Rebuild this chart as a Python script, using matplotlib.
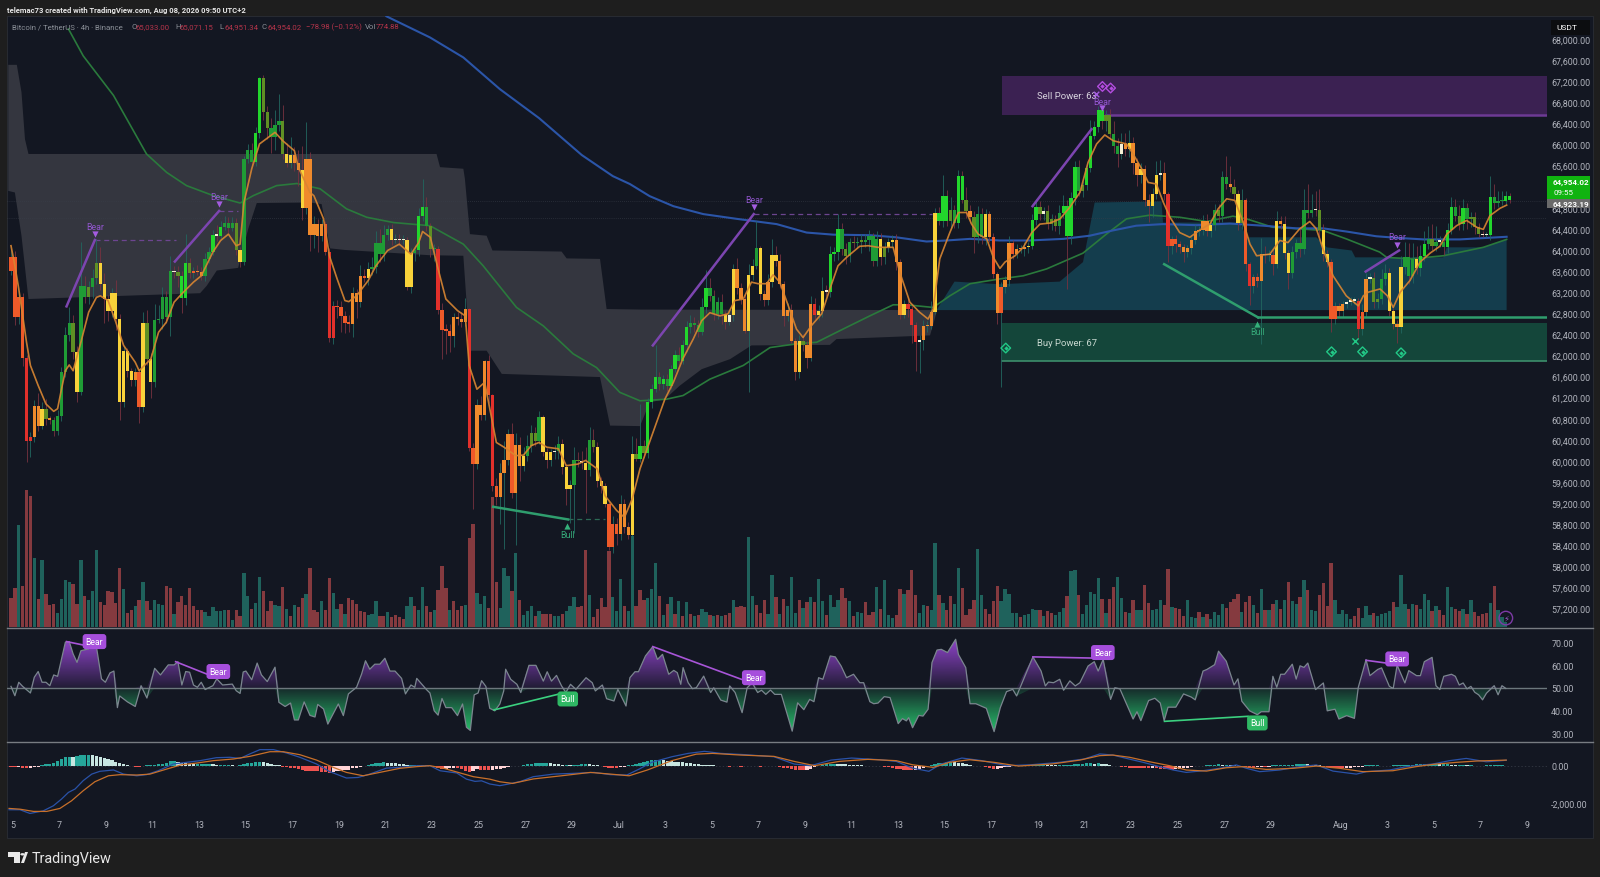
import numpy as np
import matplotlib
matplotlib.use("Agg")
import matplotlib.pyplot as plt
from matplotlib.patches import Rectangle, Polygon, Circle

plt.rcParams['font.family'] = ['Roboto', 'DejaVu Sans']

# ---------- candle data (4h bars, bar 0 = 5 Jun) ----------
first_open = 63610
close = [
63860,62720,63100,61950,60380,60450,61040,60670,60990,60800,
60780,60570,60860,61690,62390,62610,62060,61310,63310,63100,
63290,63460,63750,63360,63070,62850,63180,62690,61120,62080,
61710,61530,61680,61020,62620,61930,61500,62670,62700,63100,
62720,63600,63580,63500,63080,63750,63560,63600,63580,63510,
63830,63960,64280,64270,64440,64520,64420,64520,64000,63780,
65730,65900,65660,66220,67260,66610,66310,66140,66360,66450,
65820,65650,65800,65650,65520,64790,65730,64280,64490,64270,
64490,63960,62340,62930,62910,62750,62620,62600,63180,63010,
63510,63460,63630,63670,64140,63920,64280,64400,64180,64190,
64180,64190,63290,63940,63990,64640,64810,64460,64010,64020,
62870,62490,62470,62360,62720,62700,62630,62880,60240,59940,
61060,60870,61900,61250,59530,59310,59780,60020,60510,59400,
60310,59910,60090,60290,60530,60380,60830,60160,60010,60160,
60190,60320,59880,59470,59540,60020,59990,59960,59820,60400,
60260,59610,59520,59180,58360,58800,58610,59180,58740,58600,
60130,60040,60280,60150,61120,61360,61590,61460,61550,61430,
61740,62010,61900,62190,62530,62610,62570,62450,62910,63270,
63130,62790,63010,62790,62630,62770,63640,63270,63070,62470,
63530,63700,64030,63170,63060,63390,63900,63800,63360,62750,
62870,62280,61690,62280,62190,61960,62980,62770,62850,63230,
63210,63920,63960,64400,64010,63890,64150,64130,64150,64160,
64180,64270,63800,64210,63860,64050,64150,64190,63770,62770,
62980,62880,62580,62260,62300,62550,62550,62830,64710,64540,
65020,64540,64750,64520,65410,64950,64730,64620,64240,64680,
64240,64680,64250,63540,62800,63290,63430,64140,63920,64010,
64010,64050,64080,64560,64820,64680,64730,64490,64590,64450,
64710,64840,64260,64980,65580,65110,65230,65550,66170,66330,
66650,66450,66550,66200,65980,65820,66010,65910,66030,65640,
65420,65540,64940,64830,65070,65430,65460,65060,64080,64210,
64110,64050,63970,64040,64180,64350,64380,64540,64350,64480,
64750,64650,65390,65250,65190,65060,64520,64950,63730,63310,
63480,63420,63920,63900,63900,63730,64540,64490,63940,63560,
63970,64130,64020,64760,64700,64760,64750,64370,63920,63780,
62700,62940,62850,62980,63020,63040,63040,62500,62820,63450,
63470,63010,63070,63440,63560,62850,62600,62530,63670,63860,
63500,63830,63650,63890,64110,64200,64080,64160,64160,64050,
64370,64810,64650,64490,64790,64590,64620,64430,64300,64280,
64280,65000,64890,64920,64930,65020,64950]
wick_up = [
150,120,100,80,60,100,120,250,120,180,
60,60,100,100,150,300,150,120,850,200,
120,180,450,300,200,80,100,250,100,100,
60,60,80,60,200,250,120,300,250,200,
120,280,100,120,100,550,100,80,120,100,
120,100,100,200,100,120,100,100,80,60,
60,100,120,120,20,60,120,200,300,500,
300,200,350,150,250,450,700,120,150,100,
100,60,80,100,120,120,100,150,120,80,
200,120,150,200,220,250,200,80,100,120,
120,100,60,100,100,150,540,200,60,100,
50,120,100,120,80,100,120,200,20,100,
120,180,20,100,20,150,180,350,100,200,
220,150,180,200,150,120,120,40,80,60,
120,150,100,60,100,250,150,200,300,250,
200,100,80,60,80,150,120,180,100,100,
350,300,800,120,80,100,600,100,80,100,
80,100,150,100,120,150,120,100,180,350,
200,120,100,150,50,100,100,200,100,100,
200,120,520,50,80,150,300,180,120,60,
120,100,50,100,120,80,150,100,100,250,
100,150,100,280,120,120,80,120,100,150,
120,100,50,150,120,100,80,100,120,50,
80,120,60,60,80,120,100,200,80,100,
400,120,250,100,100,80,250,120,120,150,
120,100,60,80,50,100,80,120,50,100,
80,100,80,120,150,100,80,120,100,80,
150,200,100,120,100,120,80,100,300,120,
80,100,100,120,250,150,200,200,250,120,
100,100,80,120,100,250,250,200,40,60,
80,60,60,60,100,120,80,120,150,100,
120,120,100,400,350,150,80,200,40,50,
60,80,300,150,100,120,200,100,150,60,
100,80,300,400,500,300,350,400,120,80,
50,80,60,60,40,60,60,40,150,120,
100,120,120,200,180,100,50,80,220,300,
280,300,250,200,250,250,300,300,100,80,
150,200,150,200,180,100,100,100,80,60,
60,400,250,200,180,100,60]
wick_dn = [
80,150,120,150,400,300,100,100,60,120,
80,100,80,100,100,120,120,200,60,100,
120,200,100,120,450,200,120,200,350,100,
120,100,100,300,100,120,300,100,60,200,
100,350,120,200,270,120,100,100,60,80,
100,80,60,100,80,60,100,60,100,100,
60,80,60,60,100,150,200,300,250,100,
100,80,100,150,300,220,100,300,250,300,
100,60,80,120,200,300,200,150,250,300,
100,60,120,100,100,150,120,100,80,50,
80,60,50,100,150,100,100,100,150,220,
80,550,450,300,200,120,100,80,50,850,
100,100,100,150,100,150,500,1450,100,100,
1000,300,100,100,120,100,60,60,150,100,
120,150,120,300,650,900,100,120,800,100,
100,100,120,60,50,100,200,100,100,80,
40,40,60,80,100,120,60,120,100,100,
60,50,80,60,120,100,120,100,60,100,
100,120,100,200,120,60,120,100,100,50,
1170,100,60,120,120,100,100,100,80,200,
100,50,150,120,100,200,60,80,100,120,
80,100,120,150,100,150,120,100,100,200,
100,200,100,100,150,120,80,100,150,80,
60,150,350,550,600,200,100,50,40,60,
100,80,120,100,100,60,120,100,300,100,
120,150,100,80,200,1400,100,120,100,80,
60,120,100,60,80,120,120,100,120,100,
150,100,1000,150,120,80,100,100,80,60,
100,150,200,100,150,250,100,120,150,200,
200,150,100,300,200,100,100,120,300,150,
150,100,200,100,120,60,80,100,80,100,
100,120,120,100,100,100,150,120,120,350,
120,120,1200,150,100,200,80,100,120,300,
100,120,150,100,100,80,100,120,120,100,
260,100,120,120,80,60,60,180,120,100,
80,120,120,100,100,100,100,300,100,120,
150,120,100,150,100,100,80,100,100,150,
100,60,100,120,120,200,150,120,60,40,
40,100,120,80,60,60,60]
candle_state = (
"TTTTRRAAYO" "ADDDDDOYDD" "ODOYYYYYYY" "YYATYOYDDD" "DDWOGGOTAA"
"DDGWGDDDOY" "DDDGGOODDD" "OYYAAYAAAA" "ATRRTTTTAA" "ATYDDDDDYW"
"WWYYDGGDOD" "RTTTAAAART" "AAATRTAAAT" "AAYDOODYYY" "WDYYYDOWYD"
"OYYYTTTAAA" "YOGOGGGDGD" "GGDGGDDDDG" "DDDDYWYAAA" "YYDYAAYYAA"
"AAAYOAARYY" "WGGGDODODO" "DDDDYOYYAA" "YRRRWAAAYG" "GGODGGOAOD"
"DYATATAATA" "AAYGGOWOOO" "DGGGGDOGGG" "GGOODDWAYA" "AYAAYYWART"
"TTAAAAAAAY" "DODDAOYOTR" "TTAWWTYAYY" "DDDDDDWOYY" "TTAAWWWRTA"
"WOODDYYAYD" "DDYGGDODWD" "GGDOGDOOOW" "WGDDDGG")

volume = [
29,39,102,41,137,131,69,28,67,33, 22,23,14,28,47,45,43,23,67,31,
27,36,77,25,22,36,35,24,59,38, 14,17,21,27,45,26,17,27,23,22,
41,39,13,25,31,22,39,21,17,17, 15,11,20,16,16,17,17,7,17,11,
54,31,18,24,50,36,16,26,22,21, 40,18,11,22,20,29,33,59,17,15,
26,17,49,34,18,23,13,29,27,23, 16,15,12,13,26,11,11,15,10,12,
10,8,21,30,21,17,40,21,15,17, 37,61,39,17,26,17,21,22,89,103,
34,23,31,19,130,45,19,59,51,36, 74,27,12,16,21,11,16,13,13,13,
11,11,13,16,21,30,20,21,77,32, 10,18,29,20,76,30,16,48,21,16,
91,21,37,27,29,38,64,31,12,23, 30,13,26,11,25,13,11,12,18,15,
12,11,12,11,12,14,27,20,21,20, 90,31,22,14,27,13,52,30,13,28,
21,50,14,27,
19,25,30,25,48,26,12,32,20,27, 39,29,26,11,15,14,25,12,15,40,
18,47,12,9,12,38,33,37,57,32, 14,22,21,17,84,32,24,17,31,23,
59,39,12,18,27,78,32,18,13,26, 41,26,38,33,14,14,10,12,13,18,
17,17,11,16,14,12,15,19,31,56, 57,32,13,22,35,33,49,28,14,28,
40,50,29,15,14,27,17,17,42,24, 17,18,27,22,58,20,19,18,11,27,
10,9,15,10,13,8,15,12,23,19, 25,28,33,15,25,31,22,14,38,17,
17,23,27,18,27,45,26,23,30,47, 37,17,16,32,44,21,64,27,13,17,
13,8,11,19,9,21,12,14,11,13, 14,16,25,20,52,23,18,23,22,18,
33,27,16,21,17,12,40,20,18,16, 18,13,27,15,11,13,14,24,41,17,
10,5]
volume_side = (
"rrtrrrtrtr" "rrttttrrtr" "tttrrrrrrt" "rrtrtrrttt" "rrtrrrrrrr"
"ttttttrtrr" "ttrttrrrtt" "rtrtrrtrrr" "trrttrtrrr" "rrtttrrtrr"
"rrttrttrrt" "rrrtrrrtrr" "tttrrrtttr" "trtttrtrrr" "ttrtttrrrt"
"rrrrrtttrt" "trrrtttrtr" "trtrtrtrtt" "rtrtrrtrrr" "ttrrrttrtr" "tttr"
"trtrttrttt" "rrtrttrrrt" "rtttrrtrrr" "ttrttrtrrt" "trrrrttrrr"
"rtttttrttt" "trtrrtttrt" "trtttttrtr" "rttrtrttrr" "tttrrtrrrt"
"ttrtrttttr" "rrrtrrtrtr" "trtrtrttrt" "rttrrrrttt" "ttrrtttrtt"
"ttrtttrtrt" "ttrtrrttrr" "trtrrrrtrt" "tt")

ema_fast_bar = [0,1,2,4,5,7,9,11,12,13,14,15,16,18,20,22,23,25,27,29,32,33,36,38,40,42,44,47,49,52,54,56,58,59,60,62,64,66,68,70,73,74,77,
 78,80.5,82,84,86,87,89,92,94,97,100,103,105,106,108,110,112,115,117,118,120,122,124,125,127,130,132,134,136,138,141,143,146,148,151,153,156,158,160,162,
 168.4,170.6,173,175.7,177.9,180,182.6,184.7,186.4,188.6,190.7,192.4,194.6,196.3,198,200.2,202.3,204,206.2,208.8,210.9,213,215.2,218.6,220.8,223.3,227.2,228.9,231.5,234,236.2,237.5,239.2,241.8,244,246.1,
 247.4,249.1,251.3,253,254.7,256,258.6,260.7,262.9,265,267.6,270.2,272.7,275.3,277.4,279.6,281.7,283.9,287.3,289,291.2,292.9,295,296.8,298.5,301,303.6,306.6,308.8,310.9,313.1,315.2,317.4,319.1,320.8,
 324.2,326.8,328.9,331.9,334.5,336.2,337.9,340.5,343.9,347,348.3,349.6,352.6,354.5,356,357.8,360.3,362.9,365.5,368,369.8,372.3,374.9,377.5,379.2,380.9,383.5,385.2]
ema_fast = [64080,63700,63260,62250,61810,61430,61080,60940,60990,61360,61710,61820,61710,62250,62820,63100,63130,63040,62630,62190,61870,61710,61930,62440,62630,63010,63170,63390,63510,63960,64180,64300,64080,64110,64900,65540,66010,66120,66230,66070,65880,65570,65090,
 65030,64590,63890,63450,63040,63020,63130,63420,63700,63990,64110,63920,64140,64350,64240,63640,63070,62850,62750,61810,61360,61490,60730,60350,60260,60100,60110,60290,60350,60260,60230,59910,59940,60010,59850,59340,59060,58930,59280,59850,
 61170,61490,61930,62310,62660,62810,62750,62790,63040,63070,63390,63360,63360,63530,63390,62940,62500,62340,62570,62790,63260,63700,63860,64070,64080,64050,64050,63580,63010,62820,62690,62880,63830,64330,64710,64710,
 64490,64300,64210,63860,63650,63770,63890,64050,64330,64490,64510,64590,64810,65090,65660,66010,66180,66070,66010,65820,65540,65280,65250,64900,64620,64330,64240,64400,64490,64780,64970,64940,64520,64110,63890,
 63920,64180,64140,64400,64540,64400,64020,63510,63130,62940,63130,63200,63260,63130,62910,63200,63420,63770,63940,64070,64300,64460,64560,64430,64390,64650,64790,64850]

sma_bar = [14.8,18.6,26.4,34.9,40.1,45.2,52.1,59,62.4,68.4,73.6,79.6,86.4,91.6,98.5,107.9,116.5,121.6,130.2,137.1,144.8,150.8,156.8,162,
 168.8,173.1,180,188.6,195.5,202.3,207.5,214.3,221.2,227.2,230.6,237.5,241.8,247,
 254.6,260.7,266.7,276.1,282.1,287.3,293.3,301,307.9,314.7,318.2,325,331.9,337.9,343.9,352.5,354.3,360.3,368.9,379.2,385.2]
sma = [68190,67680,66930,65820,65470,65220,65030,64890,65030,65220,65260,65160,64780,64620,64520,64460,64110,63700,62910,62560,62030,61770,61300,61140,
 61170,61240,61550,61810,62150,62220,62250,62500,62750,62960,62960,62910,63130,63360,
 63450,63510,63640,63940,64300,64590,64660,64620,64540,64640,64590,64430,64400,64370,64210,63960,63860,63830,63890,64050,64200]

ema_slow_bar = [96.7,107.9,116.5,125.9,136,147,155,159.4,164.5,170.6,178.3,186.9,197.2,204.9,211.8,221.2,228,235.8,241,247,254.6,262.4,271,277.8,283.8,289.8,296.7,305.3,313.9,322.5,331,337.9,343.9,351.6,356.9,363.8,373.2,385.2]
ema_slow = [68430,68030,67650,67050,66500,65800,65400,65250,65020,64830,64680,64590,64490,64330,64290,64280,64240,64160,64180,64210,64180,64180,64210,64270,64370,64460,64490,64470,64500,64460,64410,64410,64350,64260,64230,64200,64200,64250]

cloud_up_bar = [-0.7,1.5,2.7,3.6,4.5,109.6,110.5,116.5,116.9,118.2,122.5,124,141.8,143.1,151.7,153.4,162,237.5]
cloud_up = [67510,67510,66990,66100,65820,65820,65570,65540,65350,64300,64270,63990,63970,63840,63830,62880,62870,62860]
cloud_lo_bar = [-0.7,1,2.7,4.5,48.7,50.4,53,58.5,61.1,63.3,77,80,82.2,86,107.9,116.5,118.2,122.5,126.4,151.7,154.3,162,164.5,168.4,172.3,177.9,185.2,190.7,210.9,212.6,236.7,238.4]
cloud_lo = [65120,65090,64270,63070,63180,63320,63610,63660,64400,64890,64900,64870,64030,64000,63900,63890,62090,62090,61650,61590,60670,60660,61110,61170,61430,61740,61930,62190,62200,62310,62380,62820]
teal_bar = [238.4,243,254.6,270.1,276.1,279.1,296.3,296.7,316.5,318.2,336.2,338.9,345.3,346.2,368.9,369.8,379.2,385.2]
teal_top = [62860,63400,63350,63400,63770,64900,64920,64520,64520,64240,64240,64050,63990,63860,63860,64050,64050,64200]
teal_bottom = 62860

rsi_bar = [0,1,2,3,5,6,7,8,9,10,11,12,14,15,16,17,18,20,21,22,23.3,24.3,25.5,26.5,27.4,28,30,32,33.5,35,37,38.5,40.5,42,43,44,45,46,47,48,49,50,52,53,54.5,57,58,59,59.8,60.5,62,63.4,64.5,66,68,69,70.6,72,73,74,75.5,77,78.3,79,80.5,81.6,84.3,85.6,86.9,89,90.3,91.3,92.4,93.7,95,96.3,97.6,98.9,100.6,101.6,103,104,104.5,107,107.9,109,110,111,112,113.5,115,116.3,117.3,118.3,119.3,120.3,121.2,122.3,123.3,124.6,125.9,
 126.9,127.4,128.7,130.3,131.3,133.4,135.2,137.1,138.1,139.2,140.5,141.8,142.9,144.1,145.5,148.1,149.7,150.5,152.3,153.4,155.3,156.3,158.4,159.4,160.7,161.6,163.4,165.3,166.5,167.8,169.4,170.7,171.6,172.5,173.1,174.4,175.5,176.5,178.4,180.2,181,182.8,184.4,185.1,186.5,188.3,189.6,190.9,192.3,193.3,194.4,195.6,196.7,198.4,201.2,202.6,204.2,205.7,206.8,208,209.1,211,212.3,213.8,215.2,217,218.6,219.6,221.2,222.2,223.3,224.9,226.4,228.5,229.6,230.6,231.2,232.2,233.8,234.9,236.2,237.2,238.5,239.6,241.2,243.3,244,245.9,247,248.5,251.2,253.2,254.8,256.4,258,259,263.2,265.3,266.4,267.2,268.5,270.1,271.1,272.7,274.1,275.3,277.4,279,280,281.3,283.2,284.3,
 285.6,289,290,291,293,294.6,296,297,298,300,302,304,305,307,308,310,311,313,315,316,317,319,321,322,324,325,326,327,328,330,331,332,333,334,336,338,339,341,342,344,346,347,349,350,352,353,355,356,357,359,360,362,363,364,366,367,368,369,371,372,373,374,375,376,377,378,379,380,382,383,384,385]
rsi = [50.7,46.6,52.5,50.7,47.8,54.7,57.2,52.5,52.5,51,55.7,55.1,70,70.3,64.9,61.2,66.3,67.1,70,68.1,54,52.5,56.6,57.4,41.4,46.5,43.9,41.9,51,45.6,58.6,55.7,60.1,60.1,61.5,51.3,57.2,56.9,51.3,50.3,52.5,49.3,51,54,51.3,51.7,48.8,47.6,57,57.4,53.6,60.9,55.7,52.8,59.1,43.7,41.9,43.4,36,36,43.9,38,37.3,42.8,40.8,34.2,43,37.9,47.4,50.3,56.1,61.9,58.2,60.4,60.4,63,57.4,57.4,54.2,47.4,51.3,50.3,54.2,49.3,47.8,40,38.1,45.4,41.4,41.4,37.9,43,32.8,31.4,47,47.8,53.2,50.7,41.1,40,43,
 48.7,58.2,53.8,51.6,48,59.9,59.9,53,57.1,53,55.5,50.9,48,51.6,49.4,54.5,52.3,48.7,51.3,45.3,44.3,49.4,42.1,54.5,57.1,57.1,64,68.1,62.5,64.7,56,57.7,56.7,51.6,58.9,52.3,49.7,50.1,55.2,48,50.1,44.7,43.8,50.9,48,39.2,50.1,52.3,48,49,47.2,49.1,47.2,47.2,31.1,43.5,40.5,45,44,54.5,53.8,64,63.6,59.6,54.5,56,52.3,52.3,44,43.1,43.4,46.2,45.8,34.4,36.6,35.6,37,32.6,38,37.7,40.7,61.1,66.6,66.9,65.5,71.3,64.7,58.9,43.1,43.1,41.1,30.9,41.4,48.4,49.4,46.5,63.6,57.4,50.9,52.6,52.3,53.8,49,53.1,50.9,52.3,59.6,61.5,57.4,62.5,45,50.1,
 49.6,36.4,39.6,35.7,44.5,45.5,43.4,35.7,41.6,41.6,47.4,46,44.8,57.4,58.1,60.2,66.1,61.7,51.3,54,44.2,40,38.3,39.6,39.6,55.1,50.3,56,56,60.4,53.9,59.7,59,60.9,49.3,52.2,40,40.7,36.4,37.9,36.7,50.3,62.4,55.4,58.1,58.8,50.7,49.8,60,52.2,57.6,55.4,55.4,61.5,63.4,51,49.3,55.1,56,55.1,51.3,52.2,49.6,50.7,48.1,47,44.8,47.7,51,47,51,49.8]

macd_bar = [-0.5,2.3,4.9,8.3,10.9,13,14.8,16.5,18.6,20.8,22.9,26.4,29,32.4,34.9,37.9,41.8,45.2,48.7,52.9,56.4,59,61.5,64.1,67.6,71,74.4,78.7,82.1,86.4,89.4,92.4,96.7,100.2,104.5,107.9,110.5,114.8,117.3,119.5,121.2,123.3,125.9,
 128.2,131.3,134.5,139.7,145,150.2,154.4,158.6,161.8,165,170.2,174.4,178.6,182.8,189.1,196.5,201.7,205.9,211.2,216.5,223.8,228,232.2,236.4,239.6,244.9,250.1,256.4,262.7,270.1,276.4,
 280.4,283.8,287.3,291.6,295.8,299.3,302.7,307,311.3,315.6,318.2,321.6,326.8,331.9,336.2,340.5,346.5,349.1,355.1,359.4,366.2,370.5,374.8,380,385.1]
macd = [-2360,-2360,-2560,-2420,-2150,-1790,-1430,-1250,-800,-450,-300,-230,-450,-540,-480,-270,90,180,270,430,450,390,630,860,860,680,450,90,-320,-660,-630,-450,-130,-90,0,0,-270,-390,-720,-840,-810,-980,-1070,
 -980,-840,-590,-450,-410,-360,-480,-500,-180,180,480,660,770,660,590,480,90,0,300,410,320,230,-130,-300,90,410,270,0,50,180,360,
 630,570,390,180,-50,-230,-360,-270,-140,40,-140,-320,-230,-50,40,-290,-450,-320,-230,-50,90,270,390,210,290]
signal_bar = [-0.5,2.3,5.8,9.2,12.6,15.6,18.6,21.6,25.1,28.1,32.4,35.8,40.1,43.9,47.8,52.1,57.3,61.5,66.7,70.1,74.4,78.7,83,86.4,90.7,95.9,100.2,104.5,107.9,111.3,115.7,119.1,123.3,125.9,
 129.2,134.5,141.8,149.2,154.4,159.2,163.9,170.2,176.5,180.7,188,196.5,201.7,207,213.3,220.7,228,232.2,237.5,241.7,246.9,253.2,259.5,268,275.3,
 280.4,283.8,288.1,293.3,298.4,302.7,307.9,313,317.3,323.3,330.2,336.2,342.2,348.2,355.9,361.9,366.2,372.3,377.4,385.1]
signal = [-2290,-2330,-2450,-2450,-2290,-1880,-1340,-860,-540,-480,-500,-450,-180,50,140,270,360,500,750,750,590,300,-90,-360,-540,-320,-140,-50,0,-130,-390,-590,-720,-860,
 -950,-710,-540,-360,-450,-540,-230,270,620,660,570,500,230,0,230,340,270,50,-90,180,320,180,-20,90,300,
 540,570,450,210,0,-230,-290,-110,-50,-200,-140,-20,-140,-320,-270,-50,70,180,250,300]
macd_hist = [
-70,-70,-50,-110,-140,-110,-70,-50,40,70,
110,160,230,340,450,470,450,540,560,580,
580,560,540,490,400,340,310,220,130,70,
40,-20,-50,-50,-20,20,40,50,90,110,
140,230,230,180,140,130,110,90,90,90,
90,90,70,50,50,50,50,40,-20,20,
70,130,160,200,220,200,140,90,40,20,
-70,-90,-110,-140,-180,-220,-270,-290,-290,-310,
-320,-360,-400,-360,-310,-270,-250,-230,-140,-110,
-50,0,40,70,130,160,180,160,140,130,
110,70,40,50,50,50,50,40,-20,-50,
-130,-200,-160,-130,-110,-140,-200,-290,-320,-290,
-180,-220,-250,-250,-220,-200,-160,-120,-60,-20,
0,10,40,70,100,120,130,130,130,120,
100,70,50,50,40,40,50,70,90,80,
60,20,-40,-90,-100,-100,-100,-90,-60,20,
60,100,150,200,250,290,300,300,290,260,
230,210,200,180,160,130,110,90,60,50,
40,30,10,-20,-40,-50,-30,-40,-50,-40,
-30,-30,-40,-50,-40,-30,-30,-40,-60,-100,
-150,-200,-230,-230,-240,-230,-160,-80,-40,30,
70,110,110,100,90,70,50,40,30,20,
10,0,-10,-20,-40,-50,-80,-130,-160,-200,
-220,-250,-250,-220,-190,-100,-30,60,100,140,
170,190,200,190,150,120,80,40,10,-10,
-40,-60,-110,-180,-160,-130,-90,-50,-20,0,
10,20,20,30,40,50,50,40,30,20,
20,30,40,50,70,90,110,130,130,100,
130,110,70,40,0,-40,-70,-90,-110,-130,
-130,-140,-140,-140,-130,-140,-160,-180,-200,-220,
-200,-180,-140,-110,-50,-20,0,10,20,40,
50,70,50,50,40,20,0,-50,-90,-110,
-110,-90,-70,-70,-50,20,20,40,40,50,
50,70,70,90,70,50,40,20,-70,-90,
-110,-130,-140,-140,-130,-110,-90,-70,-50,20,
20,20,20,0,-20,-20,20,40,40,50,
50,50,70,70,90,90,90,90,70,70,
70,50,40,40,40,20,20,-20,-40,-40,
20,20,20,20,20,0,0]

price_ticks = list(range(57200, 68001, 400))
rsi_ticks = [30, 40, 50, 60, 70]
macd_ticks = [0, -2000]
macd_tick_labels = ["0.00", "-2,000.00"]
date_bars = [0.44 + 6 * d for d in list(range(0, 25, 2)) + [26] + list(range(28, 55, 2)) + [57, 59, 61, 63, 65]]
date_labels = ["5","7","9","11","13","15","17","19","21","23","25","27","29","Jul",
               "3","5","7","9","11","13","15","17","19","21","23","25","27","29","Aug","3","5","7","9"]

bear_lines = [(14.3, 62930, 21.6, 64190), (42.2, 63780, 53.6, 64740), (165.3, 62190, 191.3, 64680),
              (263.1, 64830, 278.3, 66290), (348.9, 63590, 357.5, 63990)]
bear_dashes = [(21.6, 42.5, 64190), (53.6, 58.5, 64740), (191.3, 237.1, 64680)]
bear_marks = [(21.6, 64300, 64450), (53.6, 64870, 65020), (191.3, 64820, 64950), (281, 66690, 66820), (357, 64100, 64250)]
bull_lines = [(124.2, 59130, 143.5, 58890), (297, 63730, 321.2, 62720), (321.2, 62720, 395.6, 62720)]
bull_marks = [(143.3, 58770, 58610), (321, 62600, 62460)]
buy_diamonds = [(256.2, 62140), (340.1, 62070), (348.1, 62070), (358, 62050)]
sell_diamonds = [(281.1, 67100), (283.2, 67070)]
rsi_bear_lines = [(14.3, 70.3, 20.6, 68.1), (42.4, 61.5, 50.4, 56.1), (165.3, 68.1, 188.1, 53.8), (263.2, 63.6, 281.1, 63), (349, 62.1, 354.2, 60.9)]
rsi_bear_labels = [(21.5, 70.3), (53.4, 57.2), (191.3, 54.5), (281.2, 65.5), (357, 62.7)]
rsi_bull_lines = [(124.4, 40.4, 140.8, 47.2), (297.1, 35.4, 318.6, 37.6)]
rsi_bull_labels = [(143.4, 45.2), (321, 34.7)]

problems = []
def pair(name, a, b):
    if len(a) != len(b):
        problems.append(f"{name}: {len(a)} vs {len(b)}")
    m = min(len(a), len(b))
    return list(a)[:m], list(b)[:m]

# ---------- layout ----------
W, H = 1600, 878
BG, PANE = '#1e1e1e', '#131722'
fig = plt.figure(figsize=(W / 100, H / 100), dpi=100, facecolor=BG)
def pane(top, bottom, left=7, right=1547):
    return fig.add_axes([left / W, 1 - bottom / H, (right - left) / W, (bottom - top) / H])
def fx(x): return x / W
def fy(y): return 1 - y / H
fig.add_artist(Rectangle((fx(7), fy(839)), 1586 / W, 822 / H, transform=fig.transFigure, fc=PANE, ec='#2a2e35', lw=0.6, zorder=-5))

XL = (-1.03, 395.6)
ax_v = pane(17, 628); ax = pane(17, 628); ax_r = pane(630, 742); ax_m = pane(745, 839)
for a in (ax_v, ax, ax_r, ax_m):
    a.set_xlim(*XL)
    for s in a.spines.values(): s.set_visible(False)
    a.patch.set_visible(False)
    a.tick_params(length=0, labelsize=6.4, labelcolor='#b2b5be')
    a.yaxis.tick_right()
    a.set_xticks([])
ax_v.set_zorder(1); ax.set_zorder(2)
ax.set_ylim(56851, 68436); ax_v.set_ylim(0, 611); ax_v.set_yticks([])
ax.set_yticks(price_ticks); ax.set_yticklabels([f"{t:,.2f}" for t in price_ticks])
ax.tick_params(axis='y', pad=3)

# volume
n = len(close)
volume, vs = pair('volume', volume, volume_side)
vc = ['#1f625c' if s == 't' else '#853a3f' for s in vs]
ax_v.bar(np.arange(len(volume)), volume, width=0.85, color=vc, lw=0)

# clouds and zones
cub, cu = pair('cloud_up', cloud_up_bar, cloud_up)
clb, cl = pair('cloud_lo', cloud_lo_bar, cloud_lo)
ax.fill(cub + clb[::-1], cu + cl[::-1], color='#34363f', lw=0, zorder=1)
tb, tt = pair('teal', teal_bar, teal_top)
ax.fill(tb + tb[::-1], tt + [teal_bottom] * len(tb), color='#143d4d', lw=0, zorder=1)
ax.add_patch(Rectangle((255.2, 66560), 140.4, 732, fc='#3b2152', lw=0, zorder=1))
ax.plot([282, 395.6], [66560, 66560], color='#6d3a94', lw=1.8, zorder=1.2)
ax.add_patch(Rectangle((255.2, 61900), 140.4, 715, fc='#14463a', lw=0, zorder=1))
ax.plot([255.2, 395.6], [61900, 61900], color='#3d8f6c', lw=1.2, zorder=1.2)
for lvl in (64923, 64606):
    ax.axhline(lvl, color='#3a3f4a', lw=0.5, ls=(0, (1, 2)), zorder=1.1)

ax.plot(*pair('sma', sma_bar, sma), color='#2a7a3c', lw=1.2, zorder=2)
ax.plot(*pair('slow', ema_slow_bar, ema_slow), color='#2b55a8', lw=1.5, zorder=2)

# candles
for nm, arr in (('wick_up', wick_up), ('wick_dn', wick_dn), ('state', candle_state)):
    if len(arr) != n: problems.append(f"{nm}: {len(arr)} vs {n}")
colmap = dict(G='#22d62c', D='#1f9c35', O='#5f8f24', Y='#f8d23a', A='#ef8a2c', T='#ee5a29', R='#e2302b', W='#f5f0d6')
c = np.array(close, float)
o = np.r_[first_open, c[:-1]]
x = np.arange(n)
top = np.maximum(o, c); bot = np.minimum(o, c)
wc = ['#22665f' if cc >= oo else '#77323f' for oo, cc in zip(o, c)]
ax.vlines(x, bot - np.array(wick_dn[:n]), top + np.array(wick_up[:n]), colors=wc, lw=0.6, zorder=3)
ax.bar(x, np.maximum(top - bot, 30), bottom=bot, width=0.85, color=[colmap[s] for s in candle_state[:n]], lw=0, zorder=4)
ax.plot(*pair('fast', ema_fast_bar, ema_fast), color='#d98632', lw=1.2, alpha=0.9, zorder=5)

# signals
BULL = '#2f9e6e'
for a0, p0, a1, p1 in bear_lines:
    ax.plot([a0, a1], [p0, p1], color='#7c45b0', lw=1.8, zorder=5)
for a0, a1, p in bear_dashes:
    ax.plot([a0, a1], [p, p], color='#6c4590', lw=0.9, ls=(0, (4, 3)), zorder=2.5)
for b, pm, pt in bear_marks:
    ax.scatter([b], [pm], marker='v', s=20, color='#a45ce0', lw=0, zorder=6)
    ax.text(b, pt, "Bear", color='#9256cf', fontsize=6.3, ha='center', va='center', zorder=6)
for a0, p0, a1, p1 in bull_lines:
    ax.plot([a0, a1], [p0, p1], color=BULL, lw=1.8, zorder=3.5)
ax.plot([143.5, 153], [58890, 58890], color='#2c6a55', lw=0.9, ls=(0, (4, 3)), zorder=2.5)
for b, pm, pt in bull_marks:
    ax.scatter([b], [pm], marker='^', s=20, color='#35b07a', lw=0, zorder=6)
    ax.text(b, pt, "Bull", color='#35a878', fontsize=6.3, ha='center', va='center', zorder=6)
for b, p in buy_diamonds:
    ax.scatter([b], [p], marker='D', s=24, fc='none', ec='#22c987', lw=1, zorder=6)
    ax.scatter([b], [p], marker='D', s=5, color='#22c987', lw=0, zorder=6)
for b, p in sell_diamonds:
    ax.scatter([b], [p], marker='D', s=24, fc='none', ec='#b44de0', lw=1, zorder=6)
    ax.scatter([b], [p], marker='D', s=5, color='#b44de0', lw=0, zorder=6)
ax.scatter([346.2], [62270], marker='x', s=20, color='#22c987', lw=1, zorder=6)
ax.scatter([279.4], [66960], marker='x', s=16, color='#a45ce0', lw=1, zorder=6)
ax.text(264.2, 66930, "Sell Power: 63", color='#d8d4de', fontsize=6.8, va='center', zorder=5)
ax.text(264.2, 62250, "Buy Power: 67", color='#c8d8d0', fontsize=6.8, va='center', zorder=5)
ax.scatter([385], [57020], s=95, fc='none', ec='#7d3aa6', lw=1, zorder=6)
ax.text(385, 57020, "\u26a1", family=['DejaVu Sans'], color='#9b59c8', fontsize=6, ha='center', va='center', zorder=6)

# RSI
ax_r.set_ylim(26.8, 75.8)
ax_r.set_yticks(rsi_ticks); ax_r.set_yticklabels([f"{t:.2f}" for t in rsi_ticks])
ax_r.tick_params(axis='y', pad=3)
rb, rv = pair('rsi', rsi_bar, rsi)
rb = np.array(rb, float); rv = np.array(rv, float)
def grad(y0, y1, rgb, a0, a1, vals):
    t = np.linspace(0, 1, 128)[:, None]
    img = np.zeros((128, 1, 4)); img[..., :3] = rgb; img[..., 3] = (a0 + (a1 - a0) * t)
    im = ax_r.imshow(img, extent=(XL[0], XL[1], y0, y1), origin='lower', aspect='auto', zorder=1, interpolation='bilinear')
    poly = Polygon(np.c_[np.r_[rb[0], rb, rb[-1]], np.r_[50, vals, 50]], transform=ax_r.transData, fc='none', ec='none')
    ax_r.add_patch(poly); im.set_clip_path(poly)
grad(50, 71, matplotlib.colors.to_rgb('#8e44c9'), 0.12, 1.0, np.maximum(rv, 50))
grad(50, 32, matplotlib.colors.to_rgb('#27b868'), 0.10, 1.0, np.minimum(rv, 50))
ax_r.set_xlim(*XL); ax_r.set_ylim(26.8, 75.8)
ax_r.axhline(50, color='#6c777c', lw=1, zorder=2)
ax_r.plot(rb, rv, color='#7b868f', lw=0.9, zorder=3)
for a0, v0, a1, v1 in rsi_bear_lines:
    ax_r.plot([a0, a1], [v0, v1], color='#a855d8', lw=1.2, zorder=4)
for b, v in rsi_bear_labels:
    ax_r.text(b, v, "Bear", color='white', fontsize=6.2, ha='center', va='center', zorder=5,
              bbox=dict(boxstyle='round,pad=0.35', fc='#a64fdc', ec='none'))
for a0, v0, a1, v1 in rsi_bull_lines:
    ax_r.plot([a0, a1], [v0, v1], color='#3bd07f', lw=1.2, zorder=4)
for b, v in rsi_bull_labels:
    ax_r.text(b, v, "Bull", color='white', fontsize=6.2, ha='center', va='center', zorder=5,
              bbox=dict(boxstyle='round,pad=0.35', fc='#2fb864', ec='none'))

# MACD
ax_m.set_ylim(-3875, 1163)
ax_m.set_yticks(macd_ticks); ax_m.set_yticklabels(macd_tick_labels)
ax_m.tick_params(axis='y', pad=3)
h = np.array(macd_hist, float)
prev = np.r_[0, h[:-1]]
hc = []
for v, p in zip(h, prev):
    if v >= 0: hc.append('#26a69a' if v >= p else '#c8e6e1')
    else: hc.append('#ef5350' if v <= p else '#ffd3d6')
ax_m.bar(np.arange(len(h)), h, width=0.85, color=hc, lw=0, zorder=2)
ax_m.axhline(0, color='#3a3f4a', lw=0.5, ls=(0, (2, 3)), zorder=1)
ax_m.plot(*pair('macd', macd_bar, macd), color='#2a52a8', lw=0.9, zorder=3)
ax_m.plot(*pair('signal', signal_bar, signal), color='#c8702a', lw=0.9, zorder=3)
ax_m.set_xticks(date_bars); ax_m.set_xticklabels(date_labels)
ax_m.tick_params(axis='x', pad=-13, labelsize=6.4)

# separators
for y in (628.5, 743):
    fig.add_artist(plt.Line2D([fx(7), fx(1593)], [fy(y), fy(y)], color='#787c82', lw=1, zorder=8))

# header texts
fig.text(fx(7), fy(10), "telemac73 created with TradingView.com, Aug 08, 2026 09:50 UTC+2", color='#e6e6e6', fontsize=5.5, weight='bold', va='center')
GR, RD = '#8b9098', '#b5344a'
for px, s, col in [(12, "Bitcoin / TetherUS \u00b7 4h \u00b7 Binance", GR), (131, "O", GR), (136, "65,033.00", RD), (175, "H", GR), (180, "65,071.15", RD),
                   (219, "L", GR), (224, "64,951.34", RD), (262, "C", GR), (267, "64,954.02", RD), (306, "\u221278.98 (\u22120.12%)", RD), (365, "Vol", GR), (376, "774.88", RD)]:
    fig.text(fx(px), fy(27), s, color=col, fontsize=5.6, va='center', zorder=9)

# price tags and currency badge
def box(x0, y0, x1, y1, fc):
    fig.add_artist(Rectangle((fx(x0), fy(y1)), (x1 - x0) / W, (y1 - y0) / H, transform=fig.transFigure, fc=fc, ec='none', zorder=10))
box(1551, 21, 1590, 36, '#0c0d10')
fig.text(fx(1556), fy(28.5), "USDT", color='white', fontsize=6, va='center', zorder=11)
box(1547, 177, 1590, 200, '#10b310')
box(1547, 200, 1590, 209, '#6a6a6a')
fig.text(fx(1553), fy(182.5), "64,954.02", color='white', fontsize=5.8, weight='bold', va='center', zorder=11)
fig.text(fx(1553), fy(193), "09:55", color='white', fontsize=5.8, va='center', zorder=11)
fig.text(fx(1553), fy(204.5), "64,923.19", color='white', fontsize=5.8, weight='bold', va='center', zorder=11)

# brand
fig.text(fx(32), fy(859), "TradingView", color='#e8e8e8', fontsize=10.4, va='center')
for pts in ([(8, 853), (20, 853), (20, 864), (14, 864), (14, 858), (8, 858)], [(21, 864), (25, 853), (28, 853), (24, 864)]):
    fig.add_artist(Polygon([(fx(a), fy(b)) for a, b in pts], transform=fig.transFigure, fc='#e8e8e8', ec='none'))
fig.add_artist(Circle((fx(22.5), fy(855.3)), 2.2 / W, transform=fig.transFigure, fc='#e8e8e8', ec='none'))

fig.savefig("out.png", dpi=100, facecolor=BG)
if problems or len(macd_hist) != n:
    raise SystemExit("LENGTHS " + "; ".join(problems) + f" hist {len(macd_hist)} n {n}")
